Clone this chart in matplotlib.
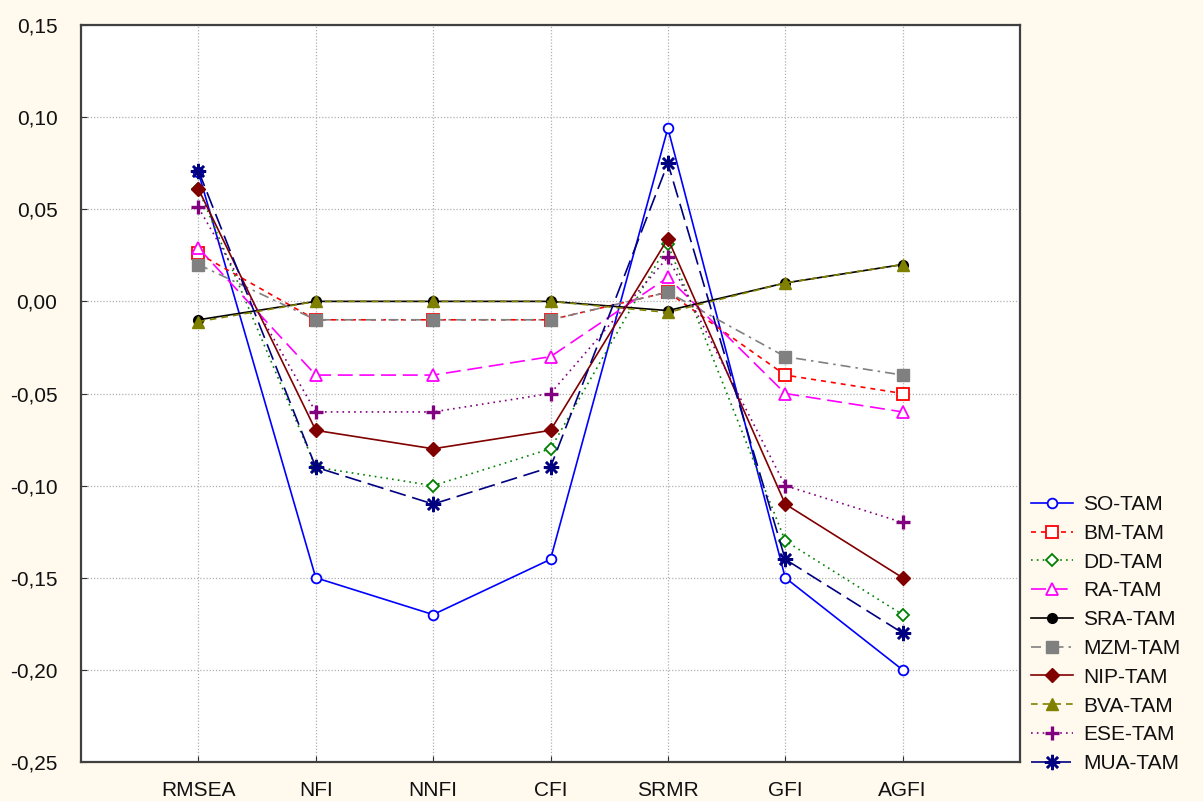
import numpy as np
import matplotlib
matplotlib.use('Agg')
import matplotlib.pyplot as plt
from matplotlib.ticker import FuncFormatter

plt.rcParams['font.family'] = ['Liberation Sans', 'DejaVu Sans']

categories = ['RMSEA', 'NFI', 'NNFI', 'CFI', 'SRMR', 'GFI', 'AGFI']

so_tam = [0.070, -0.150, -0.170, -0.140, 0.094, -0.150, -0.200]
bm_tam = [0.026, -0.010, -0.010, -0.010, 0.005, -0.040, -0.050]
dd_tam = [0.061, -0.090, -0.100, -0.080, 0.031, -0.130, -0.170]
ra_tam = [0.029, -0.040, -0.040, -0.030, 0.013, -0.050, -0.060]
sra_tam = [-0.010, 0.000, 0.000, 0.000, -0.005, 0.010, 0.020]
mzm_tam = [0.020, -0.010, -0.010, -0.010, 0.005, -0.030, -0.040]
nip_tam = [0.061, -0.070, -0.080, -0.070, 0.034, -0.110, -0.150]
bva_tam = [-0.011, 0.000, 0.000, 0.000, -0.006, 0.010, 0.020]
ese_tam = [0.051, -0.060, -0.060, -0.050, 0.024, -0.100, -0.120]
mua_tam = [0.071, -0.090, -0.110, -0.090, 0.075, -0.140, -0.180]

labels = ['SO-TAM', 'BM-TAM', 'DD-TAM', 'RA-TAM', 'SRA-TAM',
          'MZM-TAM', 'NIP-TAM', 'BVA-TAM', 'ESE-TAM', 'MUA-TAM']
series = [so_tam, bm_tam, dd_tam, ra_tam, sra_tam,
          mzm_tam, nip_tam, bva_tam, ese_tam, mua_tam]

# color, linestyle, marker, filled, markersize
styles = [
    ('#0000ff', '-', 'o', False, 7),
    ('#ff0000', (0, (3, 3)), 's', False, 8),
    ('#008000', (0, (1, 2.5)), 'D', False, 6),
    ('#ff00ff', (0, (9, 4)), '^', False, 8),
    ('#000000', '-', 'o', True, 7),
    ('#808080', (0, (6, 3, 1.5, 3)), 's', True, 8),
    ('#800000', '-', 'D', True, 7),
    ('#808000', (0, (4, 3)), '^', True, 8),
    ('#800080', (0, (1, 2.5)), '+', True, 10),
    ('#000080', (0, (10, 4)), (8, 2, 0), True, 11),
]

bg = '#fff9ee'
fig = plt.figure(figsize=(12.03, 8.01), dpi=100, facecolor=bg)
ax = fig.add_axes([81 / 1203, 39 / 801, (1020 - 81) / 1203, (762 - 25) / 801])
ax.set_facecolor('white')

x = np.arange(len(categories))
for lab, vals, (col, ls, mk, filled, ms) in zip(labels, series, styles):
    kw = dict(color=col, linestyle=ls, lw=1.2, marker=mk, markersize=ms,
              markeredgecolor=col, label=lab)
    if filled:
        kw['markerfacecolor'] = col
    else:
        kw['markerfacecolor'] = 'white'
        kw['markeredgewidth'] = 1.3
    if mk == '+':
        kw['markeredgewidth'] = 2.4
    if mk == (8, 2, 0):
        kw['markeredgewidth'] = 1.8
    ax.plot(x, vals, **kw)


def comma_fmt(v, pos):
    v = round(v, 2) + 0.0
    if abs(v) < 1e-9:
        v = 0.0
    return f'{v:.2f}'.replace('.', ',')


ax.set_xlim(-1, 7)
ax.set_ylim(-0.25, 0.15)
ax.set_xticks(x)
ax.set_xticklabels(categories)
ax.set_yticks(np.arange(-0.25, 0.151, 0.05))
ax.yaxis.set_major_formatter(FuncFormatter(comma_fmt))
ax.tick_params(direction='in', length=4, labelsize=15, colors='#303030',
               labelcolor='#111111')
ax.tick_params(axis='y', pad=17)
ax.tick_params(axis='x', pad=14)
ax.grid(True, color='#b0b0b0', linestyle=(0, (1, 1.5)), lw=0.9)
ax.set_axisbelow(True)
for s in ax.spines.values():
    s.set_color('#404040')
    s.set_linewidth(1.6)

fig.legend(loc='upper left', bbox_to_anchor=(1031 / 1203, 1 - 495 / 801),
           frameon=False, fontsize=15, handlelength=2.0, handletextpad=0.5,
           labelspacing=0.47, borderpad=0, borderaxespad=0,
           labelcolor='#111111')

fig.savefig('out.png', dpi=100, facecolor=bg)
